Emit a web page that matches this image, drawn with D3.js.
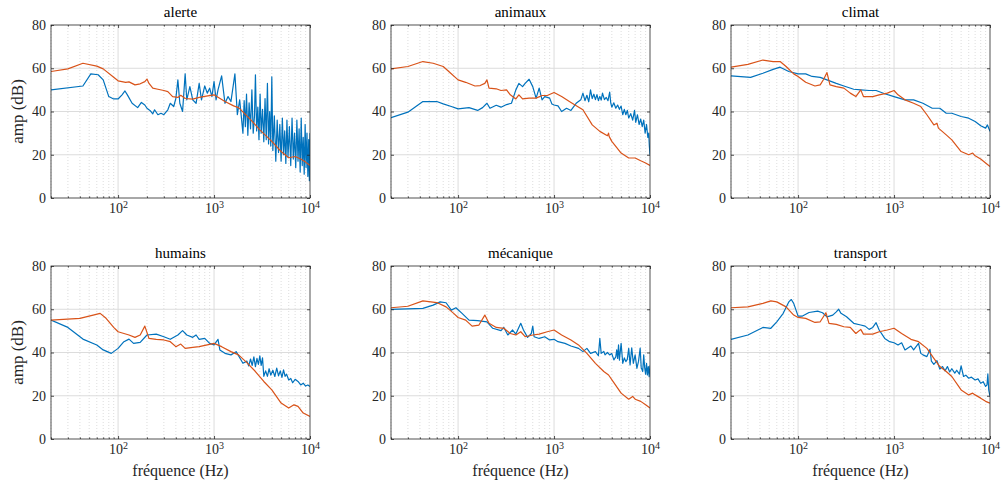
<!DOCTYPE html>
<html>
<head>
<meta charset="utf-8">
<script src="https://cdn.jsdelivr.net/npm/d3@7"></script>
<style>
  body { margin: 0; background: #fff; }
  svg { display: block; }
</style>
</head>
<body>
<svg id="chart" width="1001" height="484"></svg>
<script>
// ---- data: [frequency Hz, amplitude dB] ----
const titres = ['alerte', 'animaux', 'climat', 'humains', 'mécanique', 'transport'];
const yTicks = [0, 20, 40, 60, 80];
const xMajor = [100, 1000, 10000];
const xMinor = [20, 30, 40, 50, 60, 70, 80, 90, 200, 300, 400, 500, 600, 700, 800, 900,
                2000, 3000, 4000, 5000, 6000, 7000, 8000, 9000];
const yLabel = 'amp (dB)';
const xLabel = 'fréquence (Hz)';

const alerteBleu = [[20,50],[43,51.8],[52,57.4],[62,57],[70,54.6],[80,46.9],[90,45.8],[100,45.8],[110,47.7],[118,49.5],[125,47.7],[140,43.8],[160,41.8],[175,44.2],[190,43],[200,41.5],[215,40.5],[230,38.9],[240,40.8],[260,38.5],[280,39.2],[300,38.5],[330,40.8],[350,43.8],[380,42.3],[400,46],[420,54.6],[440,43.8],[470,40],[500,57.4],[520,45.4],[560,51.5],[600,45.4],[650,43.8],[700,53],[740,45.4],[800,51.8],[850,48.5],[900,50.8],[950,46.9],[1000,53.8],[1050,45.4],[1100,50],[1200,56.5],[1300,43.8],[1400,46.9],[1500,44.6],[1650,57.4],[1750,38.5],[1850,45.4],
  [2000,30],[2060,45],[2120,33],[2180,48],[2250,29],[2320,44],[2400,32],[2480,50],[2560,30],[2640,38],[2700,57],[2780,31],[2860,42],[2940,27],[3020,48],[3100,30],[3200,41],[3300,26],[3400,46],[3500,27],[3600,53],[3700,25],[3800,40],[3900,24],[4000,56],[4100,22],[4250,38],[4400,17],[4550,36],[4700,21],[4850,34],[5000,17],[5150,37],[5300,20],[5450,31],[5600,16],[5750,36],[5900,19],[6100,33],[6300,15],[6500,37],[6700,18],[6900,30],[7100,14],[7300,36],[7500,17],[7700,32],[7900,12],[8100,37],[8300,15],[8500,28],[8700,11],[8900,34],[9100,14],[9300,30],[9500,10],[9700,27],[9850,8],[10000,30]];
const alerteOrange = [[20,58.5],[30,59.7],[43,62.3],[60,61],[70,59.7],[90,55.8],[100,54.2],[120,53.5],[130,53.7],[150,52.3],[170,52.8],[190,53.8],[200,55],[210,53],[230,50.8],[260,50.3],[300,49.7],[330,49.2],[370,46.9],[420,46.5],[450,47.5],[500,46],[600,45.7],[700,46.5],[800,47],[1000,47.7],[1100,46.6],[1300,44.6],[1600,42.6],[1800,41.8],[2000,39.8],[2500,35.4],[3000,31.5],[4000,26.2],[5000,21.5],[6000,18.6],[7000,19.2],[8000,18],[9000,16.6],[10000,15]];

const animauxBleu = [[20,37.2],[30,39.7],[43,44.6],[60,44.6],[70,43.5],[85,42.3],[100,41.2],[130,41.8],[160,40.5],[180,41.8],[200,43.8],[215,41.5],[250,42.9],[280,42],[320,43.2],[360,43.8],[400,50],[430,53],[470,51.5],[500,53],[550,54.9],[600,51.5],[650,46.2],[700,50.8],[750,45.4],[800,46.9],[900,46.2],[950,43.5],[1000,43],[1100,42.6],[1200,40],[1350,41.5],[1500,40.5],[1700,43.8],[1900,45.4],
  [2000,48.5],[2100,45],[2200,47.5],[2300,44.5],[2400,50],[2500,46],[2600,48],[2700,45.5],[2800,47.8],[2900,45],[3000,47],[3100,45.3],[3200,48.5],[3350,45.5],[3500,46.5],[3650,45],[3800,49],[3900,44],[4000,42],[4200,44],[4400,41.5],[4600,43],[4800,41],[5000,42.5],[5200,38.5],[5400,41],[5600,38.5],[5800,40.5],[6000,37],[6300,39],[6600,36],[6900,40.5],[7100,35],[7400,38.5],[7700,34],[8000,36.5],[8300,33],[8600,36],[8900,30],[9200,34],[9500,28],[9700,30],[9850,24],[10000,20]];
const animauxOrange = [[20,59.7],[30,60.8],[43,63.1],[55,62.3],[70,60.8],[80,58.5],[100,54.6],[120,53.5],[150,51.8],[170,52],[190,53],[200,54.6],[210,50.8],[250,50.5],[280,49.7],[320,50],[350,47.7],[400,45.8],[430,47.7],[470,45.8],[550,46.2],[650,46.2],[750,47.4],[850,47.4],[1000,48.8],[1200,46.9],[1500,44.2],[2000,40.8],[2500,33.8],[3000,30.8],[3600,28.8],[3700,30],[3750,28.5],[4000,26.2],[5000,20.8],[6000,18.5],[7000,18.5],[8000,17.2],[9000,16.2],[10000,15]];

const climatBleu = [[20,56.5],[32,55.8],[43,57.7],[55,59.5],[65,60.5],[80,58.5],[100,57.4],[120,57.4],[140,56.2],[170,55.8],[200,54.6],[250,53],[300,51.8],[380,50.3],[450,50],[550,49.7],[650,49.7],[800,48.2],[1000,46.9],[1300,45.4],[1600,45.4],[2000,43.8],[2500,41.5],[3000,41.5],[3500,39.2],[4000,39.2],[5000,37.7],[6000,36.9],[7000,35.4],[8000,33.4],[9000,32.3],[9400,33.8],[10000,30.8]];
const climatOrange = [[20,60.5],[30,61.8],[43,63.8],[55,63.1],[65,63.1],[75,60.8],[90,57.4],[100,56.2],[120,53.5],[150,51.8],[170,52.3],[185,54.9],[200,58],[215,52.3],[250,51.5],[300,50.8],[350,48.5],[400,46.9],[450,50],[480,46.9],[600,46.9],[700,47.7],[850,48.5],[1000,49.7],[1100,47.7],[1300,45.4],[1600,43.8],[1900,42.3],[2200,38.5],[2600,33.8],[2800,34.6],[2900,32.3],[3500,29.2],[4000,26.9],[5000,21.5],[6000,20],[6600,20.8],[7000,19.5],[8000,18],[9000,16.2],[10000,14.6]];

const humainsBleu = [[20,55],[30,51.6],[43,46.2],[60,43.5],[70,41.2],[85,39.6],[100,41.9],[115,45],[130,46.2],[145,44.2],[170,44.7],[200,48.1],[250,48.5],[300,47.3],[350,46.1],[420,48.1],[470,50.1],[520,48.1],[600,47],[650,48.1],[700,46.1],[800,46.5],[900,44.2],[1000,43.5],[1100,46.1],[1150,41.2],[1300,39.6],[1500,38.9],[1700,40.4],[2000,35],
  [2200,36],[2300,33.8],[2400,37],[2500,34],[2600,38],[2700,33.5],[2800,37.3],[2900,34.5],[3000,38.4],[3100,34],[3200,37.5],[3300,29],[3450,31.5],[3600,29],[3750,32.5],[3900,29.5],[4100,31.8],[4300,28.9],[4500,32.8],[4700,29.2],[4900,31.5],[5100,28.5],[5300,32],[5500,29],[5700,30],[6000,27.3],[6300,28],[6600,26],[7000,27.6],[7500,26.6],[8000,25],[8500,25.8],[9000,24.5],[9500,25],[10000,24.3]];
const humainsOrange = [[20,55],[40,55.8],[55,57.3],[65,58.1],[75,55.8],[90,51.6],[100,49.6],[130,48.1],[150,47],[170,48.1],[190,52.2],[210,46.5],[250,46.1],[300,45.8],[350,45],[400,42.7],[450,43.9],[500,41.9],[600,42.4],[700,42.7],[850,43.5],[1000,44.2],[1200,42.7],[1500,40.4],[1800,38.9],[2200,35.3],[2700,31.2],[3300,26.6],[4000,22.7],[5000,16.6],[6000,14.3],[6800,15.8],[7500,15.1],[8500,12],[10000,10.4]];

const mecaniqueBleu = [[20,59.9],[43,60.4],[55,61.9],[65,63.4],[75,63],[85,59.6],[95,60.7],[110,58.1],[130,55],[160,54.7],[200,54.2],[230,51.2],[280,50.1],[300,51.6],[330,48.1],[370,50.4],[400,48.5],[450,53.5],[480,50.4],[530,47],[580,48.8],[600,52.2],[620,47.3],[700,46.5],[800,47.3],[900,45.8],[1000,46.1],[1100,45],[1300,44.2],[1500,43],[1800,41.9],[2000,40.4],[2200,41.9],[2400,39.6],[2700,40.4],[2900,38.5],[3000,46.5],[3100,39.6],[3300,40.5],[3400,38.9],[3600,40],[3800,38.9],[4000,39.5],[4200,36.6],[4400,38],[4500,41.2],[4600,37.3],[4700,43.5],[4800,36.5],[5000,44.2],[5200,35],[5400,37.5],[5600,35.8],[5800,36.8],[6000,41.9],[6200,34.3],[6450,42.2],[6700,35],[7000,38.9],[7300,32.7],[7600,36],[7900,42],[8100,33],[8400,31.2],[8600,38.9],[8800,33],[9000,30],[9200,35],[9400,29.6],[9600,33.5],[9800,28.8],[10000,34]];
const mecaniqueOrange = [[20,60.7],[30,61.4],[43,63.9],[60,63.1],[75,61.1],[90,58.1],[100,56.2],[120,55],[140,52.2],[165,52.7],[190,57.3],[210,53.5],[250,51.6],[300,51.2],[350,48.8],[400,48.1],[450,49.6],[500,47.3],[600,48.1],[700,48.5],[850,49.6],[1000,50.4],[1200,48.1],[1500,45.8],[1800,43.5],[2200,39.6],[2700,35],[3300,31.2],[3700,29.6],[4200,26.1],[5000,21.2],[6000,18.4],[6600,19.7],[7000,18.4],[8000,17.4],[9000,15.8],[10000,14.3]];

const transportBleu = [[20,46.1],[30,48.1],[43,51.6],[52,51.2],[60,54.2],[70,58.1],[80,63.4],[85,64.5],[90,62.7],[100,56.8],[110,56.8],[130,58.5],[160,59.1],[180,58.4],[200,56.5],[230,57.3],[250,58.8],[265,60],[280,58.1],[320,56.5],[380,53.5],[450,52.7],[500,52.2],[550,50.7],[600,51.6],[650,53.8],[700,50.4],[800,46.5],[900,45],[1000,44.5],[1100,43.5],[1200,44.5],[1300,41.2],[1500,43],[1600,41.2],[1800,44.2],[1900,39.6],[2000,38.9],[2200,38.1],[2370,41.5],[2450,36],[2600,34.5],[2800,36.2],[3000,32.3],[3200,33.5],[3400,31.5],[3600,33.5],[3800,31],[4000,32.5],[4300,30.5],[4500,31.8],[4800,30],[5000,33.8],[5300,28.9],[5600,29.5],[6000,28.1],[6400,28.6],[7000,27.3],[7500,27.8],[8000,25.8],[8500,26.5],[9000,24.3],[9300,25],[9500,30.1],[9700,22.7],[10000,19.7]];
const transportOrange = [[20,60.7],[30,61.1],[43,62.7],[52,63.9],[60,63.4],[75,61.1],[90,57.3],[100,56.2],[120,55.8],[150,53.9],[170,54.2],[195,58.4],[210,53.5],[250,53],[300,51.9],[350,51.6],[400,48.8],[450,50.7],[480,48.5],[600,48.5],[700,49.6],[850,50.4],[1000,51.2],[1200,48.8],[1500,46.1],[1800,45],[2200,41.9],[2600,37.3],[3000,33.5],[3500,31.2],[4000,28.9],[5000,22.7],[6000,20.4],[6600,21.2],[7000,20.4],[8000,18.9],[9000,17.4],[10000,16.6]];

const seriesBleu = [alerteBleu, animauxBleu, climatBleu, humainsBleu, mecaniqueBleu, transportBleu];
const seriesOrange = [alerteOrange, animauxOrange, climatOrange, humainsOrange, mecaniqueOrange, transportOrange];

// ---- layout ----
const colLeft = [51, 391, 731];
const rowTop = [25, 266];
const W = 259, H = 173;
const BLEU = '#0072BD', ORANGE = '#D95319';
const SERIF = "'Liberation Serif', serif";

const svg = d3.select('#chart');
const x = d3.scaleLog().domain([20, 10000]).range([0, W]);
const y = d3.scaleLinear().domain([0, 80]).range([H, 0]);
const line = d3.line().x(d => x(d[0])).y(d => y(d[1]));

titres.forEach((titre, i) => {
    const col = i % 3, row = Math.floor(i / 3);
    const g = svg.append('g').attr('transform', `translate(${colLeft[col]},${rowTop[row]})`);

    g.append('clipPath').attr('id', 'clip' + i)
        .append('rect').attr('width', W).attr('height', H);

    // grid
    g.append('g').selectAll('line').data(xMinor).join('line')
        .attr('x1', d => x(d)).attr('x2', d => x(d)).attr('y1', 0).attr('y2', H)
        .attr('stroke', '#cfcfcf').attr('stroke-width', 0.7).attr('stroke-dasharray', '1,2');
    g.append('g').selectAll('line').data(xMajor.slice(0, 2)).join('line')
        .attr('x1', d => x(d)).attr('x2', d => x(d)).attr('y1', 0).attr('y2', H)
        .attr('stroke', '#dcdcdc').attr('stroke-width', 1);
    g.append('g').selectAll('line').data(yTicks.slice(1, 4)).join('line')
        .attr('x1', 0).attr('x2', W).attr('y1', d => y(d)).attr('y2', d => y(d))
        .attr('stroke', '#dcdcdc').attr('stroke-width', 1);

    // curves
    const curves = g.append('g').attr('clip-path', `url(#clip${i})`).attr('fill', 'none')
        .attr('stroke-width', 1.2).attr('stroke-linejoin', 'round');
    curves.append('path').attr('d', line(seriesBleu[i])).attr('stroke', BLEU);
    curves.append('path').attr('d', line(seriesOrange[i])).attr('stroke', ORANGE);

    // axes
    const bottom = g.append('g').attr('transform', `translate(0,${H})`)
        .call(d3.axisBottom(x).tickValues(xMajor).tickSize(-3).tickSizeOuter(0).tickPadding(5));
    bottom.selectAll('text').each(function (d) {
        const t = d3.select(this).text(null).attr('font-size', 14);
        t.append('tspan').text('10');
        t.append('tspan').attr('dy', '-0.5em').attr('font-size', 10).text(Math.round(Math.log10(d)));
    });
    g.append('g').attr('transform', `translate(0,${H})`)
        .call(d3.axisBottom(x).tickValues(xMinor).tickSize(-1.6).tickSizeOuter(0).tickFormat(''));
    g.append('g').call(d3.axisTop(x).tickValues(xMajor).tickSize(-3).tickSizeOuter(0).tickFormat(''));
    g.append('g').call(d3.axisTop(x).tickValues(xMinor).tickSize(-1.6).tickSizeOuter(0).tickFormat(''));
    g.append('g')
        .call(d3.axisLeft(y).tickValues(yTicks).tickSize(-3).tickSizeOuter(0).tickPadding(5))
        .selectAll('text').attr('font-size', 14);
    g.append('g').attr('transform', `translate(${W},0)`)
        .call(d3.axisRight(y).tickValues(yTicks).tickSize(-3).tickSizeOuter(0).tickFormat(''));
    g.selectAll('.domain').remove();
    g.selectAll('.tick line').attr('stroke', '#262626').attr('stroke-width', 0.8);
    g.selectAll('g').attr('font-family', SERIF);
    g.selectAll('text').attr('fill', '#262626');

    g.append('rect').attr('width', W).attr('height', H)
        .attr('fill', 'none').attr('stroke', '#262626').attr('stroke-width', 0.8);

    g.append('text').attr('x', W / 2).attr('y', -8).attr('text-anchor', 'middle')
        .attr('font-family', SERIF).attr('font-size', 15).attr('fill', '#000').text(titre);

    if (col === 0) {
        g.append('text').attr('transform', `translate(-28,${H / 2}) rotate(-90)`)
            .attr('font-family', SERIF).attr('text-anchor', 'middle').attr('font-size', 17)
            .attr('fill', '#262626').text(yLabel);
    }
    if (row === 1) {
        g.append('text').attr('x', W / 2).attr('y', H + 37).attr('text-anchor', 'middle')
            .attr('font-family', SERIF).attr('font-size', 16).attr('fill', '#262626').text(xLabel);
    }
});
</script>
</body>
</html>
